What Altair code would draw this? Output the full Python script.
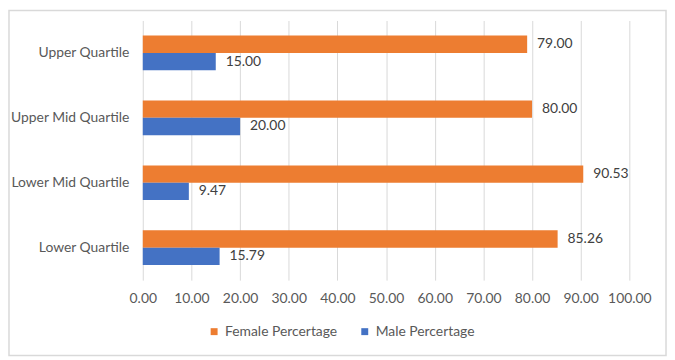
import altair as alt
import pandas as pd

categories = ["Upper Quartile", "Upper Mid Quartile", "Lower Mid Quartile", "Lower Quartile"]
female = [79.00, 80.00, 90.53, 85.26]
male = [15.00, 20.00, 9.47, 15.79]
series = ["Female Percertage", "Male Percertage"]
colors = ["#ED7D31", "#4472C4"]
x_ticks = [0, 10, 20, 30, 40, 50, 60, 70, 80, 90, 100]

rows = []
for c, f, m in zip(categories, female, male):
    rows.append({"cat": c, "series": series[0], "value": f})
    rows.append({"cat": c, "series": series[1], "value": m})
df = pd.DataFrame(rows)

FONT = "Lato"
FS = 14
W, H = 491, 262
PAD = {"left": 136, "top": 11, "right": 38, "bottom": 77}

y_enc = alt.Y("cat:N", sort=categories,
              scale=alt.Scale(paddingInner=0.466, paddingOuter=0.233),
              axis=alt.Axis(title=None, domain=False, ticks=False, labelPadding=14,
                            labelFontSize=FS, labelColor="#595959", labelFont=FONT))
yoff_enc = alt.YOffset("series:N", sort=series, scale=alt.Scale(paddingInner=0, paddingOuter=0))
x_enc = alt.X("value:Q", scale=alt.Scale(domain=[0, 100], nice=False),
              axis=alt.Axis(values=x_ticks, format=".2f", title=None, domain=False, ticks=False,
                            grid=True, gridColor="#D9D9D9", gridWidth=1, labelPadding=12,
                            labelOverlap=False, labelFlush=False,
                            labelFontSize=FS, labelColor="#595959", labelFont=FONT))

bars = alt.Chart(df).mark_bar().encode(
    y=y_enc, yOffset=yoff_enc, x=x_enc,
    color=alt.Color("series:N", sort=series,
                    scale=alt.Scale(domain=series, range=colors),
                    legend=alt.Legend(title=None, orient="none", legendX=65, legendY=307,
                                      direction="horizontal", symbolType="square", symbolSize=49,
                                      symbolStrokeWidth=0, labelFontSize=FS, labelColor="#595959",
                                      labelFont=FONT, columnPadding=20, labelOffset=4)),
)

labels = alt.Chart(df).mark_text(align="left", baseline="middle", dx=10, fontSize=FS,
                                 color="#404040", font=FONT).encode(
    y=y_enc, yOffset=yoff_enc, x=x_enc,
    text=alt.Text("value:Q", format=".2f"),
)

border = alt.Chart(pd.DataFrame({"a": [0]})).mark_rect(
    fill="white", fillOpacity=0, stroke="#D9D9D9", strokeWidth=1.5
).encode(
    x=alt.value(-PAD["left"] + 1), x2=alt.value(W + PAD["right"] - 1),
    y=alt.value(-PAD["top"] + 1), y2=alt.value(H + PAD["bottom"] - 1),
)

chart = alt.layer(border, bars, labels).properties(
    width=W, height=H, autosize="none", padding=PAD, background="white"
).configure_view(stroke="transparent")

chart.save("out.html", embed_options={"renderer": "svg", "actions": False})
